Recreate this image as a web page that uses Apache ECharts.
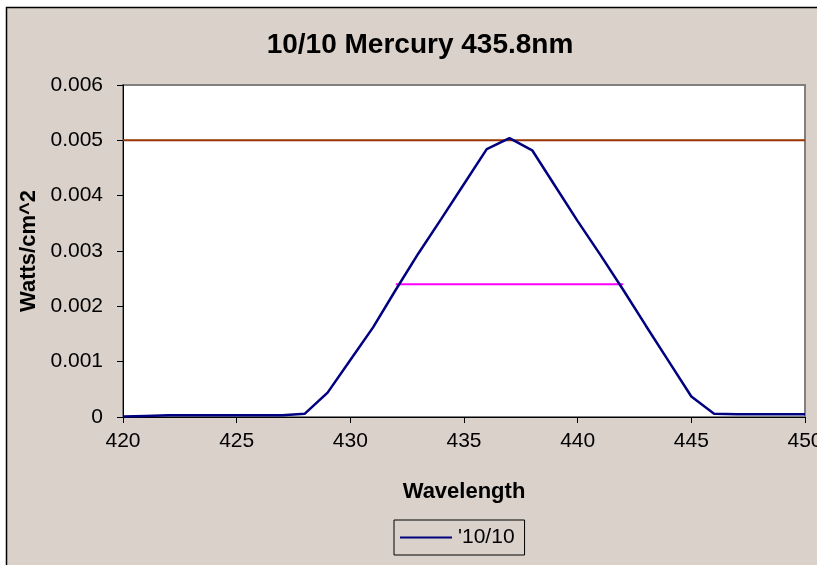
<!DOCTYPE html>
<html>
<head>
<meta charset="utf-8">
<script src="https://cdn.jsdelivr.net/npm/echarts@6/dist/echarts.min.js"></script>
<style>
html,body{margin:0;padding:0;background:#fff;}
#chart{width:817px;height:565px;}
</style>
</head>
<body>
<div id="chart"></div>
<script>
const titleText = '10/10 Mercury 435.8nm';
const seriesName = "'10/10";
const wavelengths = [420,421,422,423,424,425,426,427,428,429,430,431,432,433,434,435,436,437,438,439,440,441,442,443,444,445,446,447,448,449,450];
const irradiance = [0.00001,0.00002,0.00003,0.00003,0.00003,0.00003,0.00003,0.00003,0.00006,0.00044,0.00103,0.00162,0.00230,0.00296,0.00358,0.00421,0.00484,0.00504,0.00482,0.00418,0.00354,0.00293,0.00230,0.00165,0.00101,0.00037,0.00006,0.00005,0.00005,0.00005,0.00005];
const refLineX = [420, 450];
const refLineY = [0.005, 0.005];
const halfLineX = [432, 442];
const halfLineY = [0.0024, 0.0024];

const chart = echarts.init(document.getElementById('chart'));
const font = 'Liberation Sans, Arial, sans-serif';
chart.setOption({
  backgroundColor: '#fff',
  animation: false,
  graphic: [{
    type: 'rect', z: -10, silent: true,
    shape: {x: 6.5, y: 7.5, width: 840, height: 600},
    style: {fill: '#d9d1ca', stroke: '#000', lineWidth: 1.5}
  }],
  title: {
    text: titleText, left: 415, top: 26, textAlign: 'center',
    textStyle: {fontFamily: font, fontSize: 28, fontWeight: 'bold', color: '#000'}
  },
  grid: {left: 123, top: 85, right: 12, bottom: 148, show: true, backgroundColor: '#fff', borderColor: '#808080', borderWidth: 2, outerBoundsMode: 'none', containLabel: false},
  legend: {
    data: [seriesName], left: 394, top: 520,
    borderColor: '#000', borderWidth: 1, padding: [7, 10, 7, 6],
    itemWidth: 52, itemHeight: 14, itemGap: 4,
    textStyle: {fontFamily: font, fontSize: 21, color: '#000', padding: [0, 0, 0, 1]},
    icon: 'path://M0,6 L52,6 L52,8 L0,8 Z'
  },
  xAxis: {
    type: 'value', min: 420, max: 450, interval: 5,
    name: 'Wavelength', nameLocation: 'middle', nameGap: 64,
    nameTextStyle: {fontFamily: font, fontSize: 22, fontWeight: 'bold', color: '#000'},
    axisLine: {show: true, lineStyle: {color: '#000', width: 1}},
    axisTick: {show: true, length: 6, lineStyle: {color: '#000'}},
    axisLabel: {fontFamily: font, fontSize: 21, color: '#000', margin: 14},
    splitLine: {show: false}
  },
  yAxis: {
    type: 'value', min: 0, max: 0.006, interval: 0.001,
    name: 'Watts/cm^2', nameLocation: 'middle', nameGap: 83,
    nameTextStyle: {fontFamily: font, fontSize: 22, fontWeight: 'bold', color: '#000'},
    axisLine: {show: true, lineStyle: {color: '#000', width: 1}},
    axisTick: {show: true, length: 6, lineStyle: {color: '#000'}},
    axisLabel: {fontFamily: font, fontSize: 21, color: '#000', margin: 20,
      formatter: v => v === 0 ? '0' : v.toFixed(3)},
    splitLine: {show: false}
  },
  series: [
    {
      name: 'ref', type: 'line', symbol: 'none', silent: true,
      data: refLineX.map((x, i) => [x, refLineY[i]]),
      lineStyle: {color: '#993300', width: 2}, z: 2
    },
    {
      name: 'half', type: 'line', symbol: 'none', silent: true,
      data: halfLineX.map((x, i) => [x, halfLineY[i]]),
      lineStyle: {color: '#ff00ff', width: 2}, z: 2
    },
    {
      name: seriesName, type: 'line', symbol: 'none',
      data: wavelengths.map((x, i) => [x, irradiance[i]]),
      lineStyle: {color: '#000080', width: 2.5}, itemStyle: {color: '#000080'}, z: 3
    }
  ]
});
</script>
</body>
</html>
